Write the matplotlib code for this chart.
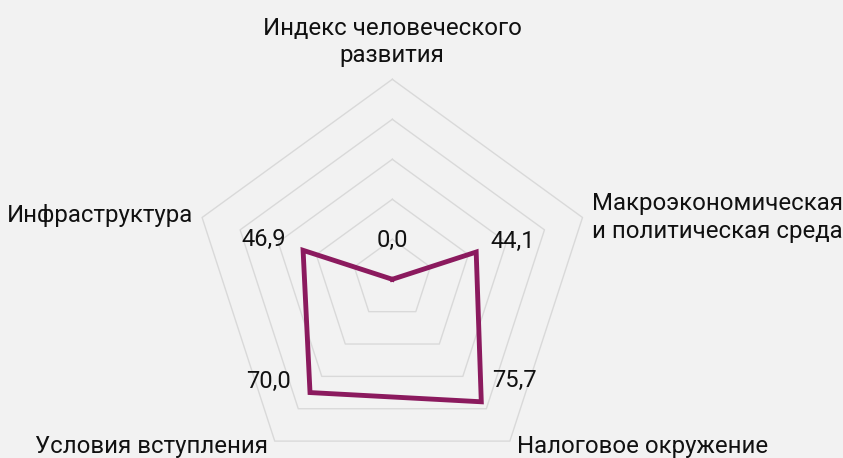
import numpy as np
import matplotlib
matplotlib.use('Agg')
import matplotlib.pyplot as plt

plt.rcParams['font.family'] = ['Roboto', 'DejaVu Sans']

# данные
categories = ['Индекс человеческого\nразвития',
              'Макроэкономическая\nи политическая среда',
              'Налоговое окружение',
              'Условия вступления',
              'Инфраструктура']
values = [0.0, 44.1, 75.7, 70.0, 46.9]
value_labels = ['0,0', '44,1', '75,7', '70,0', '46,9']
levels = [20, 40, 60, 80, 100]

bg = '#f2f2f2'
line_color = '#8b1a5e'
grid_color = '#d9d9d9'

# углы по часовой стрелке от верха
n = len(categories)
angles = np.arange(n) * 2 * np.pi / n
ux = np.sin(angles)
uy = np.cos(angles)

fig = plt.figure(figsize=(8.43, 4.58), dpi=100, facecolor=bg)
ax = fig.add_axes([0, 0, 1, 1])
ax.set_facecolor(bg)
ax.set_xlim(-196.15, 225.35)
ax.set_ylim(-89.35, 139.65)
ax.axis('off')

# сетка
for lv in levels:
    gx = np.append(ux * lv, ux[0] * lv)
    gy = np.append(uy * lv, uy[0] * lv)
    ax.plot(gx, gy, color=grid_color, lw=1.0, zorder=1)

# ряд
v = np.array(values)
px = np.append(ux * v, ux[0] * v[0])
py = np.append(uy * v, uy[0] * v[0])
ax.plot(px, py, color=line_color, lw=3.5, solid_joinstyle='miter', zorder=3)

# подписи значений (смещение в пикселях, к базовой линии)
offsets = [(0, 32), (37, 4), (33, 15), (-42, 5), (-39, 4)]
for i in range(n):
    ax.annotate(value_labels[i], (ux[i] * v[i], uy[i] * v[i]),
                xytext=offsets[i], textcoords='offset pixels',
                ha='center', va='baseline', fontsize=17, color='#111111', zorder=4)

# подписи осей (от вершины внешнего пятиугольника)
align = [('center', 'bottom'), ('left', 'center'), ('left', 'baseline'),
         ('right', 'baseline'), ('right', 'center')]
name_off = [(0, 12), (9, 0), (7, -12), (-7, -12), (-9, 2)]
top = levels[-1]
for i in range(n):
    ha, va = align[i]
    ax.annotate(categories[i], (ux[i] * top, uy[i] * top),
                xytext=name_off[i], textcoords='offset pixels',
                ha=ha, va=va, fontsize=17.3, color='#111111',
                linespacing=1.25, multialignment=ha)

fig.savefig('out.png', dpi=100, facecolor=bg)
